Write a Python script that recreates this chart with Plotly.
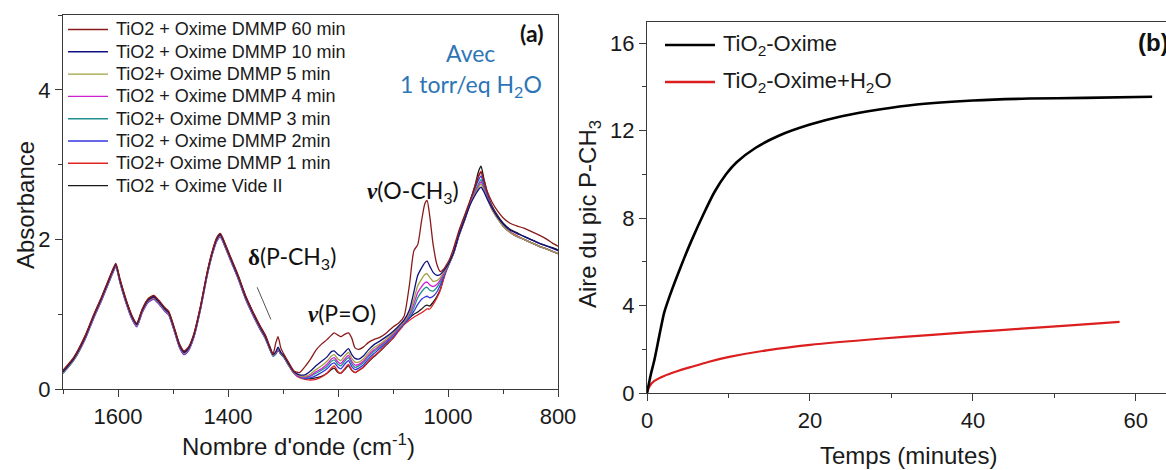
import plotly.graph_objects as go

W, H = 1166, 470

# ---------------- Panel (a) data ----------------
wavenumber = [1700, 1680, 1660, 1645, 1630, 1620, 1610, 1604, 1596, 1585, 1575, 1566, 1556, 1545, 1535,
              1525, 1515, 1508, 1498, 1488, 1480, 1472, 1462, 1450, 1438, 1428, 1420, 1414, 1406, 1395,
              1382, 1368, 1355, 1342, 1332, 1324, 1318, 1313, 1309, 1304, 1298, 1290,
              1280, 1270, 1260, 1250, 1240, 1230, 1220, 1212, 1207, 1200, 1195, 1188, 1181, 1175, 1169,
              1162, 1154, 1145, 1135, 1124, 1112, 1100, 1090, 1080, 1070, 1062, 1055, 1048, 1042, 1038,
              1033, 1027, 1020, 1014, 1008, 1003, 998, 990, 980, 970, 960, 950, 944, 940, 935, 928, 920,
              910, 900, 888, 875, 862, 850, 835, 820, 810, 800]

abs_60min = [0.25, 0.43, 0.71, 0.98, 1.23, 1.41, 1.59, 1.68, 1.46, 1.19, 0.99, 0.88, 1.07, 1.21, 1.25,
             1.18, 1.09, 1.04, 0.83, 0.60, 0.51, 0.56, 0.74, 1.11, 1.56, 1.86, 2.03, 2.08, 1.96, 1.76,
             1.53, 1.25, 1.04, 0.85, 0.72, 0.57, 0.47, 0.62, 0.70, 0.55, 0.46, 0.36,
             0.24, 0.22, 0.30, 0.40, 0.52, 0.60, 0.66, 0.72, 0.75, 0.72, 0.70, 0.73, 0.75, 0.68, 0.55,
             0.53, 0.56, 0.62, 0.66, 0.69, 0.75, 0.83, 0.88, 0.97, 1.40, 1.85, 1.93, 2.25, 2.48, 2.52,
             2.30, 1.93, 1.66, 1.57, 1.60, 1.66, 1.72, 1.88, 2.12, 2.32, 2.52, 2.72, 2.85, 2.90, 2.80,
             2.63, 2.50, 2.38, 2.29, 2.22, 2.18, 2.15, 2.11, 2.06, 2.00, 1.95, 1.91]

abs_10min = [0.23, 0.41, 0.69, 0.96, 1.21, 1.39, 1.57, 1.66, 1.44, 1.17, 0.97, 0.86, 1.05, 1.19, 1.23,
             1.16, 1.07, 1.02, 0.81, 0.58, 0.49, 0.54, 0.72, 1.09, 1.54, 1.84, 2.01, 2.06, 1.94, 1.74,
             1.51, 1.23, 1.02, 0.83, 0.70, 0.55, 0.46, 0.50, 0.56, 0.49, 0.44, 0.34,
             0.23, 0.19, 0.19, 0.24, 0.31, 0.37, 0.43, 0.50, 0.51, 0.46, 0.44, 0.49, 0.54, 0.46, 0.41,
             0.40, 0.44, 0.52, 0.59, 0.64, 0.70, 0.77, 0.84, 0.92, 1.06, 1.30, 1.52, 1.62, 1.69, 1.71,
             1.64, 1.56, 1.52, 1.53, 1.58, 1.63, 1.69, 1.82, 2.06, 2.26, 2.46, 2.60, 2.67, 2.70, 2.64,
             2.53, 2.42, 2.30, 2.21, 2.13, 2.08, 2.04, 2.00, 1.95, 1.91, 1.88, 1.85]

abs_5min = [0.22, 0.40, 0.68, 0.95, 1.20, 1.38, 1.56, 1.65, 1.43, 1.16, 0.96, 0.85, 1.04, 1.18, 1.22,
            1.15, 1.06, 1.01, 0.80, 0.57, 0.48, 0.53, 0.71, 1.08, 1.53, 1.83, 2.00, 2.05, 1.93, 1.73,
            1.50, 1.22, 1.01, 0.82, 0.69, 0.54, 0.45, 0.49, 0.55, 0.48, 0.43, 0.33,
            0.22, 0.18, 0.17, 0.20, 0.26, 0.31, 0.37, 0.44, 0.46, 0.40, 0.38, 0.44, 0.49, 0.41, 0.36,
            0.36, 0.40, 0.48, 0.55, 0.60, 0.67, 0.75, 0.82, 0.90, 1.02, 1.20, 1.38, 1.47, 1.53, 1.54,
            1.49, 1.44, 1.45, 1.49, 1.56, 1.62, 1.68, 1.81, 2.05, 2.25, 2.46, 2.62, 2.70, 2.74, 2.66,
            2.53, 2.40, 2.28, 2.18, 2.10, 2.04, 2.00, 1.96, 1.91, 1.87, 1.84, 1.81]

abs_4min = [0.22, 0.40, 0.67, 0.94, 1.19, 1.37, 1.55, 1.64, 1.42, 1.15, 0.95, 0.84, 1.03, 1.17, 1.21,
            1.14, 1.05, 1.00, 0.79, 0.56, 0.47, 0.52, 0.70, 1.07, 1.52, 1.82, 1.99, 2.04, 1.92, 1.72,
            1.49, 1.21, 1.00, 0.81, 0.68, 0.54, 0.45, 0.48, 0.54, 0.48, 0.43, 0.33,
            0.21, 0.17, 0.16, 0.18, 0.23, 0.27, 0.33, 0.40, 0.42, 0.36, 0.34, 0.40, 0.45, 0.37, 0.32,
            0.33, 0.37, 0.45, 0.52, 0.58, 0.65, 0.73, 0.81, 0.89, 1.00, 1.14, 1.29, 1.37, 1.42, 1.43,
            1.39, 1.37, 1.40, 1.46, 1.54, 1.61, 1.68, 1.81, 2.05, 2.25, 2.47, 2.64, 2.72, 2.77, 2.68,
            2.54, 2.40, 2.28, 2.18, 2.10, 2.04, 2.00, 1.96, 1.91, 1.87, 1.84, 1.81]

abs_3min = [0.21, 0.39, 0.67, 0.94, 1.19, 1.37, 1.55, 1.64, 1.42, 1.15, 0.95, 0.84, 1.03, 1.17, 1.21,
            1.14, 1.05, 1.00, 0.79, 0.56, 0.47, 0.52, 0.70, 1.07, 1.52, 1.82, 1.99, 2.04, 1.92, 1.72,
            1.49, 1.21, 1.00, 0.81, 0.68, 0.53, 0.44, 0.48, 0.53, 0.47, 0.42, 0.32,
            0.21, 0.17, 0.15, 0.17, 0.21, 0.25, 0.30, 0.37, 0.39, 0.33, 0.31, 0.37, 0.42, 0.34, 0.29,
            0.31, 0.35, 0.43, 0.50, 0.56, 0.64, 0.72, 0.80, 0.88, 0.98, 1.09, 1.22, 1.30, 1.35, 1.36,
            1.32, 1.31, 1.36, 1.43, 1.52, 1.60, 1.67, 1.81, 2.05, 2.26, 2.48, 2.66, 2.75, 2.80, 2.70,
            2.55, 2.41, 2.28, 2.18, 2.10, 2.04, 2.00, 1.96, 1.91, 1.87, 1.84, 1.81]

abs_2min = [0.21, 0.39, 0.66, 0.93, 1.18, 1.36, 1.54, 1.63, 1.41, 1.14, 0.94, 0.83, 1.02, 1.16, 1.20,
            1.13, 1.04, 0.99, 0.78, 0.55, 0.46, 0.51, 0.69, 1.06, 1.51, 1.81, 1.98, 2.03, 1.91, 1.71,
            1.48, 1.20, 0.99, 0.80, 0.67, 0.53, 0.44, 0.47, 0.53, 0.47, 0.42, 0.32,
            0.21, 0.16, 0.14, 0.15, 0.18, 0.22, 0.27, 0.33, 0.35, 0.29, 0.27, 0.33, 0.38, 0.30, 0.26,
            0.28, 0.32, 0.40, 0.47, 0.54, 0.62, 0.70, 0.79, 0.87, 0.95, 1.04, 1.13, 1.20, 1.23, 1.24,
            1.22, 1.24, 1.30, 1.39, 1.50, 1.59, 1.67, 1.81, 2.06, 2.27, 2.49, 2.70, 2.80, 2.85, 2.73,
            2.57, 2.42, 2.29, 2.19, 2.10, 2.04, 2.00, 1.96, 1.91, 1.87, 1.84, 1.81]

abs_1min = [0.22, 0.40, 0.68, 0.95, 1.20, 1.38, 1.56, 1.65, 1.43, 1.16, 0.96, 0.85, 1.04, 1.18, 1.22,
            1.15, 1.06, 1.01, 0.80, 0.57, 0.48, 0.53, 0.71, 1.08, 1.53, 1.83, 2.00, 2.05, 1.93, 1.73,
            1.50, 1.22, 1.01, 0.82, 0.69, 0.54, 0.45, 0.47, 0.52, 0.47, 0.42, 0.32,
            0.21, 0.15, 0.13, 0.12, 0.13, 0.16, 0.21, 0.28, 0.31, 0.23, 0.21, 0.27, 0.33, 0.25, 0.22,
            0.25, 0.29, 0.37, 0.44, 0.51, 0.60, 0.68, 0.77, 0.86, 0.92, 0.96, 0.99, 1.02, 1.05, 1.07,
            1.07, 1.13, 1.22, 1.32, 1.47, 1.58, 1.67, 1.81, 2.06, 2.27, 2.50, 2.73, 2.86, 2.91, 2.77,
            2.58, 2.43, 2.30, 2.19, 2.11, 2.05, 2.00, 1.96, 1.91, 1.87, 1.84, 1.81]

abs_vide = [0.24, 0.42, 0.70, 0.97, 1.22, 1.40, 1.58, 1.67, 1.45, 1.18, 0.98, 0.87, 1.06, 1.20, 1.24,
            1.17, 1.08, 1.03, 0.82, 0.59, 0.50, 0.55, 0.73, 1.10, 1.55, 1.85, 2.02, 2.07, 1.95, 1.75,
            1.52, 1.24, 1.03, 0.84, 0.71, 0.56, 0.46, 0.48, 0.52, 0.47, 0.43, 0.33,
            0.22, 0.17, 0.15, 0.14, 0.15, 0.17, 0.21, 0.26, 0.28, 0.22, 0.21, 0.26, 0.31, 0.25, 0.22,
            0.25, 0.29, 0.36, 0.43, 0.50, 0.59, 0.68, 0.79, 0.88, 0.95, 1.00, 1.03, 1.07, 1.11, 1.12,
            1.11, 1.16, 1.24, 1.33, 1.48, 1.60, 1.68, 1.82, 2.07, 2.28, 2.50, 2.75, 2.92, 2.98, 2.82,
            2.60, 2.45, 2.32, 2.22, 2.14, 2.09, 2.04, 2.00, 1.95, 1.91, 1.89, 1.86]

spectra_labels = ["TiO2 + Oxime DMMP 60 min", "TiO2 + Oxime DMMP 10 min", "TiO2+ Oxime DMMP 5 min",
                  "TiO2 + Oxime DMMP 4 min", "TiO2+ Oxime DMMP 3 min", "TiO2 + Oxime DMMP 2min",
                  "TiO2+ Oxime DMMP 1 min", "TiO2 + Oxime Vide II"]
spectra_colors = ["#8a1a1a", "#101080", "#a0a040", "#d020d0", "#209090", "#3535e0", "#e02424", "#1a1a1a"]
spectra_values = [abs_60min, abs_10min, abs_5min, abs_4min, abs_3min, abs_2min, abs_1min, abs_vide]

# ---------------- Panel (b) data ----------------
t_oxime = [0, 0.5, 0.9, 1.5, 2.1, 2.8, 3.7, 4.6, 5.5, 6.9, 8.3, 9.7, 11, 13.3, 16.1, 20, 23.9, 28.5,
           33.1, 40, 46.9, 53.8, 62]
area_oxime = [0, 0.9, 1.5, 2.6, 3.66, 4.45, 5.35, 6.2, 7.0, 8.15, 9.2, 10.0, 10.55, 11.2, 11.75, 12.27,
              12.65, 12.96, 13.19, 13.37, 13.46, 13.49, 13.54]
t_oxime_h2o = [0, 0.3, 0.9, 2.1, 3.5, 5.5, 7.5, 10.1, 14.7, 20, 28.5, 35, 40, 46, 51.5, 58]
area_oxime_h2o = [0, 0.3, 0.55, 0.78, 0.97, 1.2, 1.42, 1.65, 1.95, 2.2, 2.48, 2.66, 2.79, 2.94, 3.08, 3.25]
kinetic_labels = ["TiO<sub>2</sub>-Oxime", "TiO<sub>2</sub>-Oxime+H<sub>2</sub>O"]
kinetic_colors = ["#000000", "#dc1e1e"]

for v in spectra_values:
    assert len(v) == len(wavenumber)


def px(x):
    return x / W


def py(y):
    return 1 - y / H


ARIAL = "Liberation Sans, Arial, sans-serif"
CAL = "Lato, Open Sans, sans-serif"
BLUE = "#2e75b6"

fig = go.Figure()

# draw order: vide first, 60 min last (on top)
for vals, col in reversed(list(zip(spectra_values, spectra_colors))):
    fig.add_trace(go.Scatter(x=wavenumber, y=vals, mode="lines", xaxis="x", yaxis="y",
                             line=dict(color=col, width=1.3, shape="spline", smoothing=0.6),
                             showlegend=False, hoverinfo="skip"))

fig.add_trace(go.Scatter(x=t_oxime_h2o, y=area_oxime_h2o, mode="lines", xaxis="x2", yaxis="y2",
                         line=dict(color=kinetic_colors[1], width=2.2, shape="spline", smoothing=0.8),
                         showlegend=False))
fig.add_trace(go.Scatter(x=t_oxime, y=area_oxime, mode="lines", xaxis="x2", yaxis="y2",
                         line=dict(color=kinetic_colors[0], width=2.6, shape="spline", smoothing=0.6),
                         showlegend=False))

axis_common = dict(showline=True, linecolor="#3a3a3a", linewidth=1.2, ticks="outside", ticklen=7,
                   tickwidth=1.2, tickcolor="#3a3a3a", showgrid=False, zeroline=False,
                   tickfont=dict(family=ARIAL, size=22, color="#1a1a1a"), automargin=False)

fig.update_layout(
    width=W, height=H, margin=dict(l=0, r=0, t=0, b=0),
    paper_bgcolor="white", plot_bgcolor="white", template="none", showlegend=False,
    xaxis=dict(domain=[px(63), px(558)], range=[1700, 800], dtick=200, tick0=0, mirror=True,
               minor=dict(dtick=100, tick0=0, ticks="outside", ticklen=4, tickcolor="#3a3a3a"),
               anchor="y", **axis_common),
    yaxis=dict(domain=[py(389), py(15)], range=[0, 5.0], dtick=2, tick0=0, mirror=True,
               minor=dict(dtick=1, tick0=0, ticks="outside", ticklen=4, tickcolor="#3a3a3a"),
               anchor="x", **axis_common),
    xaxis2=dict(domain=[px(647), 1.0], range=[0, 63.7], dtick=20, tick0=0, mirror=True,
                minor=dict(dtick=10, tick0=0, ticks="outside", ticklen=4, tickcolor="#3a3a3a"),
                anchor="y2", **axis_common),
    yaxis2=dict(domain=[py(393), py(22)], range=[0, 16.96], dtick=4, tick0=0, mirror=False,
                minor=dict(dtick=2, tick0=0, ticks="outside", ticklen=4, tickcolor="#3a3a3a"),
                anchor="x2", **axis_common),
)

ann = []
# axis titles
ann.append(dict(text="Absorbance", x=px(25), y=py(205), textangle=-90,
                font=dict(family=ARIAL, size=24, color="#1a1a1a")))
ann.append(dict(text="Nombre d'onde (cm<sup>-1</sup>)", x=px(298), y=py(445),
                font=dict(family=ARIAL, size=24, color="#1a1a1a")))
ann.append(dict(text="Aire du pic P-CH<sub>3</sub>", x=px(589), y=py(214), textangle=-90,
                font=dict(family=ARIAL, size=24, color="#1a1a1a")))
ann.append(dict(text="Temps (minutes)", x=px(908), y=py(455),
                font=dict(family=ARIAL, size=24, color="#1a1a1a")))

# panel labels and notes
ann.append(dict(text="<b>(a)</b>", x=px(531), y=py(33), font=dict(family=CAL, size=23, color="#111")))
ann.append(dict(text="Avec", x=px(470), y=py(53), font=dict(family=CAL, size=23, color=BLUE)))
ann.append(dict(text="1 torr/eq H<sub>2</sub>O", x=px(471), y=py(86), font=dict(family=CAL, size=23, color=BLUE)))
ann.append(dict(text="<b>(b)</b>", x=px(1136), y=py(43), xanchor="left",
                font=dict(family=ARIAL, size=24, color="#111")))

nu = "<span style=\"font-family:'Liberation Serif'\"><b><i>ν</i></b></span>"
delta = "<span style=\"font-family:'Liberation Serif'\"><b>δ</b></span>"
ann.append(dict(text=nu + "(O-CH<sub>3</sub>)", x=px(413), y=py(192),
                font=dict(family=CAL, size=23, color="#111")))
ann.append(dict(text=nu + "(P=O)", x=px(342), y=py(313),
                font=dict(family=CAL, size=23, color="#111")))
ann.append(dict(text=delta + "(P-CH<sub>3</sub>)", x=px(292), y=py(257),
                font=dict(family=CAL, size=23, color="#111")))

shapes = []
# pointer for delta(P-CH3)
shapes.append(dict(type="line", xref="x", yref="y", x0=1347, y0=1.36, x1=1322, y1=0.93,
                   line=dict(color="#555", width=1)))

# legend panel (a)
for i, (lab, col) in enumerate(zip(spectra_labels, spectra_colors)):
    yy = 29.5 + 22.3 * i
    shapes.append(dict(type="line", xref="paper", yref="paper", x0=px(68), x1=px(108), y0=py(yy), y1=py(yy),
                       line=dict(color=col, width=1.4)))
    ann.append(dict(text=lab, x=px(114), y=py(yy), xanchor="left",
                    font=dict(family=ARIAL, size=18, color="#1a1a1a")))

# legend panel (b)
for i, (lab, col) in enumerate(zip(kinetic_labels, kinetic_colors)):
    yy = 45 + 37 * i
    shapes.append(dict(type="line", xref="paper", yref="paper", x0=px(665), x1=px(715), y0=py(yy), y1=py(yy),
                       line=dict(color=col, width=2.6)))
    ann.append(dict(text=lab, x=px(721), y=py(yy), xanchor="left",
                    font=dict(family=ARIAL, size=22, color="#1a1a1a")))

for a in ann:
    a.setdefault("xref", "paper")
    a.setdefault("yref", "paper")
    a.setdefault("showarrow", False)
    a.setdefault("xanchor", "center")
    a.setdefault("yanchor", "middle")

fig.update_layout(annotations=ann, shapes=shapes)
fig.write_html("out.html", config={"displayModeBar": False},
               post_script="document.body.style.margin='0';document.body.style.overflow='hidden';")
